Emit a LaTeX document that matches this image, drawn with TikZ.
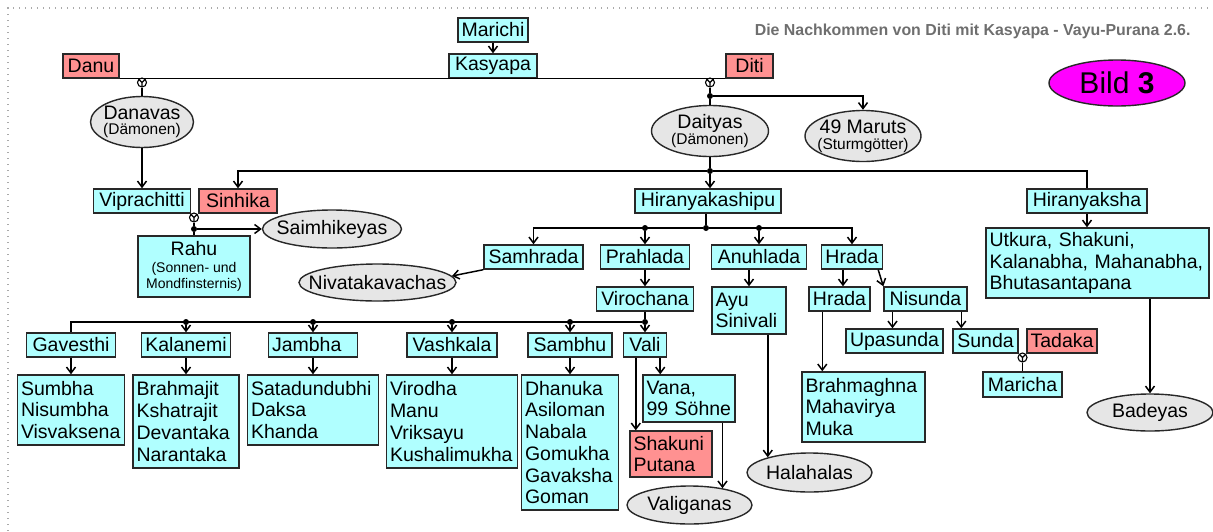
\documentclass[tikz,border=0pt]{standalone}
\usepackage{fontspec}
\setmainfont{Liberation Sans}
\usetikzlibrary{shapes.geometric,arrows.meta}
\definecolor{boxcyan}{RGB}{176,255,255}
\definecolor{boxred}{RGB}{255,145,145}
\definecolor{ellgray}{RGB}{230,230,230}
\definecolor{bildmag}{RGB}{255,0,255}
\definecolor{titlegray}{RGB}{110,110,110}
\definecolor{boxline}{RGB}{40,40,40}
\definecolor{framegray}{RGB}{170,170,170}
\newcommand{\bigf}{\fontsize{19.5}{21.7}\selectfont}
\newcommand{\subf}{\fontsize{15.5}{17}\selectfont}
\newcommand{\rahuf}{\fontsize{14}{15.7}\selectfont}
\newcommand{\titlef}{\fontsize{15.9}{18}\selectfont\bfseries}
\newcommand{\bildf}{\fontsize{30}{32}\selectfont}

\begin{document}
\begin{tikzpicture}
   [
   x=1pt, y=-1pt, font=\bigf,
   cbox/.style={rectangle, draw=boxline, fill=boxcyan, line width=1.4pt, inner xsep=3.5pt, inner ysep=1pt, minimum height=24pt},
   rbox/.style={cbox, fill=boxred},
   list/.style={cbox, align=left, text width=#1},
   rlist/.style={list=#1, fill=boxred},
   ell/.style={ellipse, draw=boxline, fill=ellgray, line width=1.4pt, inner sep=0pt, align=center},
   dot/.style={circle, fill=black, inner sep=0pt, minimum size=6pt},
   ring/.style={circle, draw=black, fill=white, line width=1.1pt, inner sep=0pt, minimum size=9pt,
      path picture={\draw[line width=1.1pt] (path picture bounding box.south) -- (path picture bounding box.center) -- (path picture bounding box.north west) (path picture bounding box.center) -- (path picture bounding box.north east);}},
   link/.style={draw=black, line width=1.5pt},
   arr/.style={link, -{Straight Barb[length=6pt,width=9pt]}},
   ]
 \useasboundingbox (0,0) rectangle (1213,531);
 \draw[framegray, line width=1.2pt, dash pattern=on 1.2pt off 4.8pt] (8,531) -- (8,8) -- (1213,8);

 % Kasyapa and his wives
 \node at (493,30) [cbox, minimum width=70pt] (mar) {Marichi};
 \node at (493,66) [cbox, minimum width=88pt] (kas) {Kasyapa};
 \node at (91,66) [rbox, minimum width=56pt] (danu) {Danu};
 \node at (749.5,66) [rbox, minimum width=47pt] (diti) {Diti};
 \node at (1194,35) [anchor=base east, font=\titlef, text=titlegray] (title) {Die Nachkommen von Diti mit Kasyapa - Vayu-Purana 2.6.};
 \node at (1117,83) [ell, fill=bildmag, minimum width=136pt, minimum height=46pt, font=\bildf] (bild) {\makebox[0pt]{Bild \textbf{3}}};
 \node at (142,82.5) [ring] (r1) {};
 \node at (710,82.5) [ring] (r2) {};
 \node at (710,96) [dot] (d1) {};

 \node at (142,122) [ell, minimum width=103pt, minimum height=51pt] (danavas) {\makebox[0pt]{Danavas}\\[-6pt]\makebox[0pt]{\subf (Dämonen)}};
 \node at (710,131) [ell, minimum width=117pt, minimum height=51pt] (daityas) {\makebox[0pt]{Daityas}\\[-6pt]\makebox[0pt]{\subf (Dämonen)}};
 \node at (863,136) [ell, minimum width=116pt, minimum height=51pt] (maruts) {\makebox[0pt]{49 Maruts}\\[-6pt]\makebox[0pt]{\subf (Sturmgötter)}};
 \node at (710,171) [dot] (d2) {};

 % Danavas and Daityas
 \node at (142,201) [cbox, minimum width=97pt] (vip) {Viprachitti};
 \node at (238,201) [rbox, minimum width=78pt] (sinh) {Sinhika};
 \node at (708,201) [cbox, minimum width=146pt] (hks) {Hiranyakashipu};
 \node at (1087,201) [cbox, minimum width=120pt] (hya) {Hiranyaksha};
 \node at (194,217.5) [ring] (r3) {};
 \node at (194,229) [dot] (d3) {};
 \node at (332,229) [ell, minimum width=139pt, minimum height=38pt] (saim) {\makebox[0pt]{Saimhikeyas}};
 \node at (194,266.5) [cbox, minimum width=112pt, minimum height=61pt, align=center] (rahu) {Rahu\\[-4.4pt]{\rahuf (Sonnen- und}\\[-6pt]{\rahuf Mondfinsternis)}};
 \node at (1097.5,263) [list=216pt, minimum height=70pt] (utk) {Utkura, Shakuni,\\Kalanabha, Mahanabha,\\Bhutasantapana};

 % sons of Hiranyakashipu
 \node at (706,228) [dot] (d4) {};
 \node at (645,228) [dot] (d5) {};
 \node at (759,228) [dot] (d6) {};
 \node at (533.5,257) [cbox, minimum width=99pt] (samh) {Samhrada};
 \node at (645,257) [cbox, minimum width=89pt] (prah) {Prahlada};
 \node at (759,257) [cbox, minimum width=95pt] (anuh) {Anuhlada};
 \node at (852,257) [cbox, minimum width=61pt] (hrada) {Hrada};
 \node at (377.5,282.5) [ell, minimum width=157pt, minimum height=37pt] (niva) {\makebox[0pt]{Nivatakavachas}};
 \node at (645,299) [cbox, minimum width=97pt] (viro) {Virochana};
 \node at (749,310.5) [list=67pt, minimum height=47pt] (ayu) {Ayu\\Sinivali};
 \node at (839.5,299) [cbox, minimum width=61pt] (hrada2) {Hrada};
 \node at (925.5,299) [cbox, minimum width=83pt] (nisu) {Nisunda};
 \node at (894.5,341) [cbox, minimum width=97pt] (upa) {Upasunda};
 \node at (985.5,341) [cbox, minimum width=65pt] (sunda) {Sunda};
 \node at (1062,341) [rbox, minimum width=70pt] (tad) {Tadaka};
 \node at (1022.5,357.5) [ring] (r4) {};
 \node at (1022.5,384.5) [cbox, minimum width=79pt, minimum height=25pt] (mari) {Maricha};
 \node at (863.5,407) [list=116pt, minimum height=70pt] (brah) {Brahmaghna\\Mahavirya\\Muka};
 \node at (1150,412.5) [ell, minimum width=126pt, minimum height=37pt] (bad) {\makebox[0pt]{Badeyas}};
 \node at (809.5,472.5) [ell, minimum width=125pt, minimum height=39pt] (hala) {\makebox[0pt]{Halahalas}};

 % sons of Virochana
 \node at (645,322) [dot] (d7) {};
 \node at (186,322) [dot] (d8) {};
 \node at (313,322) [dot] (d9) {};
 \node at (452,322) [dot] (d10) {};
 \node at (570,322) [dot] (d11) {};
 \node at (71,345) [cbox, minimum width=89pt] (gav) {Gavesthi};
 \node at (186,345) [cbox, minimum width=89pt] (kal) {Kalanemi};
 \node at (313,345) [list=82pt] (jam) {Jambha};
 \node at (452,345) [cbox, minimum width=90pt] (vash) {Vashkala};
 \node at (570,345) [cbox, minimum width=84pt] (samb) {Sambhu};
 \node at (645,345) [cbox, minimum width=43pt] (vali) {Vali};
 \node at (71,410) [list=100pt, minimum height=70pt] (sumb) {Sumbha\\Nisumbha\\Visvaksena};
 \node at (186,421.5) [list=99pt, minimum height=93pt] (brj) {Brahmajit\\Kshatrajit\\Devantaka\\Narantaka};
 \node at (313,410) [list=124pt, minimum height=70pt] (sat) {Satadundubhi\\Daksa\\Khanda};
 \node at (452,421.5) [list=124pt, minimum height=93pt] (vir) {Virodha\\Manu\\Vriksayu\\Kushalimukha};
 \node at (570,442.5) [list=90pt, minimum height=135pt] (dha) {Dhanuka\\Asiloman\\Nabala\\Gomukha\\Gavaksha\\Goman};
 \node at (689,398.5) [list=85pt, minimum height=47pt] (vana) {Vana,\\99 Söhne};
 \node at (671,454) [rlist=75pt, minimum height=46pt] (shak) {Shakuni\\Putana};
 \node at (689.5,505) [ell, minimum width=125pt, minimum height=38pt] (valig) {\makebox[0pt]{Valiganas}};

 % connectors
 \draw[arr] (mar) -- (kas);
 \draw[link] (danu.south east) -- (diti.south west);
 \draw[link] (r1) -- (danavas);
 \draw[arr] (danavas) -- (vip);
 \draw[link] (r2) -- (d1) -- (daityas);
 \draw[arr] (d1) -| (maruts);
 \draw[link] (daityas) -- (d2);
 \draw[arr] (d2) -- (d2 |- hks.north);
 \draw[arr] (d2) -| (sinh);
 \draw[link] (d2) -| (hya);
 \draw[link] (r3) -- (d3) -- (rahu);
 \draw[arr] (d3) -- (saim);
 \draw[link] (hks.south -| d4) -- (d4);
 \draw[arr] (d4) -| (samh);
 \draw[arr] (d4) -| (hrada);
 \draw[arr] (d5) -- (prah);
 \draw[arr] (d6) -- (anuh);
 \draw[arr] (samh.south west) -- (niva.5);
 \draw[arr] (prah) -- (viro);
 \draw[arr] (anuh.south -| ayu.north) -- (ayu.north);
 \coordinate (hh) at ([xshift=3.5pt]hrada2.north);
 \draw[arr] (hh |- hrada.south) -- (hh);
 \draw[arr] ([xshift=-5pt]hrada.south east) -- (nisu.north west);
 \coordinate (nu) at ([xshift=-2pt]upa.north);
 \draw[arr] (nu |- nisu.south) -- (nu);
 \coordinate (ns) at ([xshift=9pt]sunda.north west);
 \draw[arr] (ns |- nisu.south) -- (ns);
 \draw[link] (r4) -- (mari);
 \coordinate (hb) at ([xshift=14pt]hrada2.south west);
 \draw[arr] (hb) -- (hb |- brah.north);
 \draw[arr] (hya) -- (hya |- utk.north);
 \draw[arr] (utk.south -| bad) -- (bad);
 \draw[arr] (ayu.south -| hala.160) -- (hala.160);
 \draw[link] (viro) -- (d7);
 \draw[link] (d7) -| (gav);
 \draw[arr] (d7) -- (vali);
 \foreach \d/\n in {d8/kal, d9/jam, d10/vash, d11/samb}
   \draw[arr] (\d) -- (\n);
 \foreach \a/\b in {gav/sumb, kal/brj, jam/sat, vash/vir, samb/dha}
   \draw[arr] (\a) -- (\b);
 \coordinate (vs) at ([xshift=13pt]vali.south west);
 \draw[arr] (vs) -- (vs |- shak.north);
 \coordinate (vv) at ([xshift=-7pt]vali.south east);
 \draw[arr] (vv) -- (vv |- vana.north);
 \draw[arr] (vana.south -| valig.27) -- (valig.27);
\end{tikzpicture}
\end{document}
